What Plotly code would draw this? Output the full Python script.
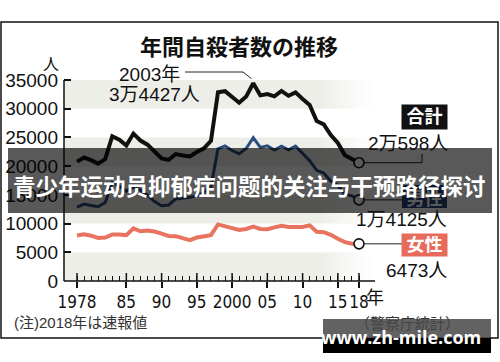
import plotly.graph_objects as go

# ---------------- data ----------------
years = list(range(1978, 2019))
total = [20788, 21503, 21048, 20434, 21228, 25202, 24596, 23599, 25667, 24460,
         23742, 22436, 21346, 21084, 22104, 21851, 21679, 22445, 23104, 24391,
         32863, 33048, 31957, 31042, 32143, 34427, 32325, 32552, 32155, 33093,
         32249, 32845, 31690, 30651, 27858, 27283, 25427, 24025, 21897, 21321,
         20598]
male = [12859, 13386, 13155, 12942, 13654, 17116, 16508, 15624, 16497, 15802,
        14934, 13818, 13102, 13242, 14296, 14468, 14560, 14874, 15393, 16416,
        23013, 23512, 22727, 22144, 23080, 24963, 23272, 23540, 22813, 23478,
        22831, 23472, 22283, 20955, 19273, 18787, 17386, 16681, 15121, 14826,
        14125]
female = [7929, 8117, 7893, 7492, 7574, 8086, 8088, 7975, 9170, 8658,
          8808, 8618, 8244, 7842, 7808, 7383, 7119, 7571, 7711, 7975,
          9850, 9536, 9230, 8898, 9063, 9464, 9053, 9012, 9342, 9615,
          9418, 9373, 9407, 9696, 8585, 8496, 8041, 7344, 6776, 6495,
          6473]
major_ticks = [1978, 1985, 1990, 1995, 2000, 2005, 2010, 2015, 2018]
major_text = ["1978", "85", "90", "95", "2000", "05", "10", "15", "18"]
y_ticks = [0, 5000, 10000, 15000, 20000, 25000, 30000, 35000]
y_text = ["0", "5000", "10000", "15000", "20000", "25000", "30000", "35000"]
bands = [(0, 5000), (10000, 15000), (20000, 25000), (30000, 35000)]

# ---------------- geometry ----------------
W, H = 500, 362
L, R, T, B = 64, 40, 60, 81
PW, PH = W - L - R, H - T - B
PPY = 7.05                      # px per year
X0 = 1978 - 13 / PPY
X1 = X0 + PW / PPY
YMAX = 35000 * PH / 201.0


def PX(px):
    return (px - L) / PW


def PY(py):
    return (H - B - py) / PH


def DX(px):
    return X0 + (px - L) / PW * (X1 - X0)


def DY(py):
    return (H - B - py) / PH * YMAX


JP = "Liberation Sans, Noto Sans CJK JP, sans-serif"
NARROW = "Liberation Sans Narrow, Arial Narrow, DejaVu Sans Condensed, Liberation Sans, sans-serif"

C_TOTAL = "#111111"
C_MALE = "#2c4b7e"
C_FEMALE = "#e8735f"
BAND = "rgb(238,238,232)"

fig = go.Figure()
fig.add_trace(go.Scatter(x=years, y=female, mode="lines",
                         line=dict(color=C_FEMALE, width=4), hoverinfo="skip"))
fig.add_trace(go.Scatter(x=years, y=male, mode="lines",
                         line=dict(color=C_MALE, width=3), hoverinfo="skip"))
fig.add_trace(go.Scatter(x=years, y=total, mode="lines",
                         line=dict(color=C_TOTAL, width=4), hoverinfo="skip"))
fig.add_trace(go.Scatter(x=[years[-1]] * 3, y=[total[-1], male[-1], female[-1]],
                         mode="markers", cliponaxis=False,
                         marker=dict(size=10, color="white",
                                     line=dict(color="#111", width=1.6)),
                         hoverinfo="skip"))

shapes = []
# outer border
shapes.append(dict(type="rect", xref="paper", yref="paper",
                   x0=PX(1), x1=PX(498), y0=PY(338), y1=PY(22),
                   line=dict(color="#111", width=1.5), fillcolor="rgba(0,0,0,0)"))
# bands with fade to the right
fade0, fade1, nfade = DX(322), DX(372), 14
for lo, hi in bands:
    shapes.append(dict(type="rect", xref="x", yref="y", x0=X0, x1=fade0,
                       y0=lo, y1=hi, line=dict(width=0), fillcolor=BAND,
                       layer="below"))
    step = (fade1 - fade0) / nfade
    for i in range(nfade):
        shapes.append(dict(type="rect", xref="x", yref="y",
                           x0=fade0 + i * step, x1=fade0 + (i + 1) * step,
                           y0=lo, y1=hi, line=dict(width=0), fillcolor=BAND,
                           opacity=1 - (i + 0.5) / nfade, layer="below"))
# axis lines
shapes.append(dict(type="line", xref="paper", yref="paper", x0=0, x1=PX(375),
                   y0=0, y1=0, line=dict(color="#111", width=1.5)))
shapes.append(dict(type="line", xref="paper", yref="paper", x0=0, x1=0,
                   y0=0, y1=PY(80), line=dict(color="#111", width=1.5)))
# inner part of major x ticks
for v in major_ticks:
    shapes.append(dict(type="line", xref="x", yref="y", x0=v, x1=v,
                       y0=0, y1=8 / PH * YMAX, line=dict(color="#111", width=1.5)))
# 2003 leader
ipk = total.index(max(total))
shapes.append(dict(type="path", xref="x", yref="y",
                   path=f"M {DX(185)},{DY(72)} L {DX(243)},{DY(72)} "
                        f"L {years[ipk] - 0.25},{total[ipk] + 800}",
                   line=dict(color="#222", width=1)))
# end leaders
xe = years[-1]
shapes.append(dict(type="path", xref="x", yref="y", layer="below",
                   path=f"M {xe},{total[-1]} L {DX(422)},{total[-1]} L {DX(422)},{DY(154)}",
                   line=dict(color="#222", width=1)))
shapes.append(dict(type="line", xref="x", yref="y", layer="below",
                   x0=xe, x1=DX(402), y0=male[-1], y1=male[-1],
                   line=dict(color="#222", width=1)))
shapes.append(dict(type="line", xref="x", yref="y", layer="below",
                   x0=xe, x1=DX(402), y0=female[-1], y1=female[-1],
                   line=dict(color="#222", width=1)))
# male label box (under banner)
shapes.append(dict(type="rect", xref="paper", yref="paper",
                   x0=PX(402), x1=PX(447), y0=PY(208), y1=PY(185),
                   line=dict(width=0), fillcolor="#24467a",
                   label=dict(text="<b>男性</b>", font=dict(family=JP, size=18, color="white"),
                              textposition="middle center")))
# banner
shapes.append(dict(type="rect", xref="paper", yref="paper",
                   x0=PX(8), x1=PX(492), y0=PY(213), y1=PY(148),
                   line=dict(width=0), fillcolor="rgba(0,0,0,0.65)"))
# source note (under watermark)
shapes.append(dict(type="rect", xref="paper", yref="paper",
                   x0=PX(355), x1=PX(460), y0=PY(332), y1=PY(312),
                   line=dict(width=0), fillcolor="rgba(0,0,0,0)",
                   label=dict(text="（警察庁統計）", font=dict(family=JP, size=15, color="#333"),
                              textposition="middle center")))
# watermark boxes
shapes.append(dict(type="rect", xref="paper", yref="paper",
                   x0=PX(323), x1=PX(491), y0=PY(338), y1=PY(319),
                   line=dict(width=0), fillcolor="rgba(70,70,70,0.85)"))
shapes.append(dict(type="rect", xref="paper", yref="paper",
                   x0=PX(323), x1=PX(491), y0=PY(353), y1=PY(338),
                   line=dict(width=0), fillcolor="#000"))

ann = []


def A(text, px, py, size=18, color="#111", xanchor="center", family=JP, **kw):
    ann.append(dict(text=text, x=PX(px), y=PY(py), xref="paper", yref="paper",
                    xanchor=xanchor, yanchor="middle", showarrow=False,
                    font=dict(family=family, size=size, color=color), **kw))


A("<b>年間自殺者数の推移</b>", 239, 45, size=22, family="Noto Sans CJK JP")
A("人", 51, 64, size=16)
A("2003年", 149, 74, size=19)
A("3万4427人", 154, 94, size=19)
A("<b>合計</b>", 424.5, 117, size=18, color="white", bgcolor="#111",
  width=41, height=20, borderpad=2)
A("2万598人", 450, 143, size=19, xanchor="right")
A("1万4125人", 449, 219, size=19, xanchor="right")
A("<b>女性</b>", 424.5, 245, size=18, color="white", bgcolor="#e66b5a",
  width=41, height=18, borderpad=2)
A("6473人", 449, 270, size=19, xanchor="right")
A("年", 364, 298, size=18, xanchor="left")
A("(注)2018年は速報値", 12, 322, size=15, color="#333", xanchor="left")
A("<b>青少年运动员抑郁症问题的关注与干预路径探讨</b>", 249, 185, size=22.5,
  color="white", family="Noto Sans CJK SC")
A("<b>www.zh-mile.com</b>", 401, 337, size=18, color="white",
  family="Open Sans, Noto Sans, sans-serif")

fig.update_layout(
    width=W, height=H, margin=dict(l=L, r=R, t=T, b=B, autoexpand=False),
    paper_bgcolor="white", plot_bgcolor="white", showlegend=False,
    shapes=shapes, annotations=ann,
    xaxis=dict(range=[X0, X1], tickmode="array", tickvals=major_ticks,
               ticktext=major_text, ticks="outside", ticklen=6, tickwidth=1.5,
               tickangle=0, automargin=False,
               tickcolor="#111", showgrid=False, zeroline=False, showline=False,
               tickfont=dict(family=NARROW, size=17, color="#111"),
               minor=dict(tickvals=years, ticks="inside", ticklen=5, tickwidth=1,
                          tickcolor="#111", showgrid=False),
               fixedrange=True),
    yaxis=dict(range=[0, YMAX], tickmode="array", tickvals=y_ticks,
               ticktext=y_text, automargin=False,
               ticks="inside", ticklen=7, tickwidth=1.5, tickcolor="#111",
               showgrid=False, zeroline=False, showline=False,
               ticklabelstandoff=5,
               tickfont=dict(family="Liberation Sans, Arial, sans-serif", size=19, color="#111"),
               fixedrange=True),
)

fig.write_html("out.html", config={"displayModeBar": False},
               post_script="document.body.style.margin='0px';document.body.style.overflow='hidden';")
